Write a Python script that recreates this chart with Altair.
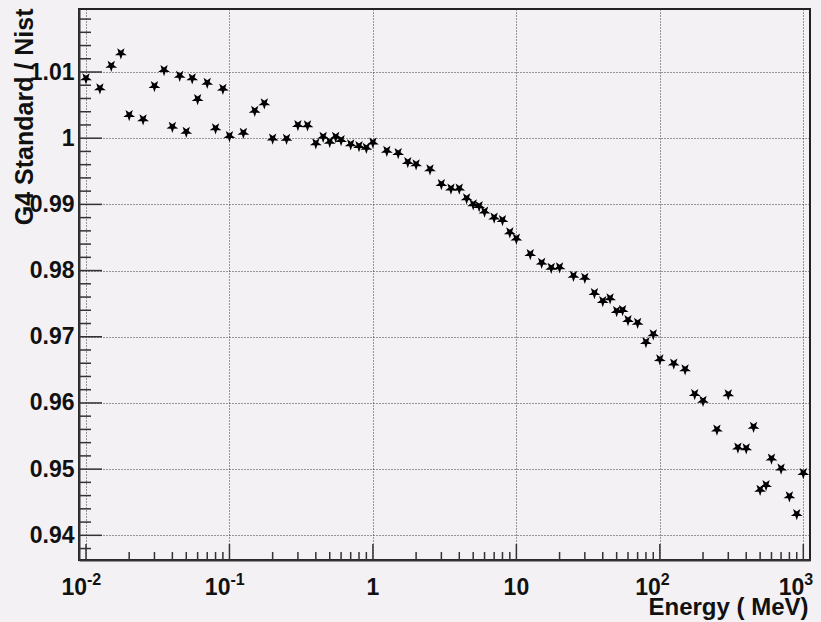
import altair as alt
import pandas as pd

# Energy grid (MeV) and ratio of G4 Standard to NIST values
ENERGY_MEV = [
    0.01, 0.0125, 0.015, 0.0175, 0.02, 0.025, 0.03, 0.035, 0.04, 0.045, 0.05, 0.055, 0.06, 0.07, 0.08, 0.09,
    0.1, 0.125, 0.15, 0.175, 0.2, 0.25, 0.3, 0.35, 0.4, 0.45, 0.5, 0.55, 0.6, 0.7, 0.8, 0.9,
    1, 1.25, 1.5, 1.75, 2, 2.5, 3, 3.5, 4, 4.5, 5, 5.5, 6, 7, 8, 9,
    10, 12.5, 15, 17.5, 20, 25, 30, 35, 40, 45, 50, 55, 60, 70, 80, 90,
    100, 125, 150, 175, 200, 250, 300, 350, 400, 450, 500, 550, 600, 700, 800, 900, 1000,
]
RATIO = [
    1.00905, 1.00754, 1.01095, 1.01283, 1.0035, 1.00285, 1.00788, 1.0103,
    1.00174, 1.00944, 1.00098, 1.00905, 1.00592, 1.00838, 1.00149, 1.00748,
    1.00033, 1.00083, 1.00415, 1.00527, 0.99995, 0.9999, 1.00199, 1.00195,
    0.99923, 1.00023, 0.99947, 1.00023, 0.99973, 0.99908, 0.99882, 0.99856,
    0.99935, 0.99811, 0.99776, 0.9964, 0.99606, 0.9953, 0.99308, 0.9924,
    0.9924, 0.99092, 0.99001, 0.98976, 0.98892, 0.98802, 0.98764, 0.98578,
    0.98485, 0.9825, 0.98119, 0.98043, 0.98049, 0.97921, 0.97892, 0.97661,
    0.9754, 0.97581, 0.97389, 0.97404, 0.97253, 0.97212, 0.96921, 0.97037,
    0.96661, 0.96596, 0.96508, 0.96135, 0.96033, 0.95599, 0.96132, 0.95327,
    0.95315, 0.95641, 0.94689, 0.9476, 0.95161, 0.9501, 0.9459, 0.94322, 0.94942,
]

# Axis ticks and labels
X_MAJOR = [0.01, 0.1, 1, 10, 100, 1000]
X_MINOR = [m * 10.0 ** k for k in range(-2, 3) for m in range(2, 10)]
X_PLAIN_VALUES = [1, 10]
X_PLAIN_TEXT = ["1", "10"]
X_POWER_VALUES = [0.01, 0.1, 100, 1000]
X_POWER_EXPONENTS = ["-2", "-1", "2", "3"]
Y_MAJOR = [0.94, 0.95, 0.96, 0.97, 0.98, 0.99, 1.00, 1.01]
Y_MINOR = [round(0.938 + 0.002 * i, 3) for i in range(41) if i % 5 != 1]

X_DOMAIN = [0.008938, 1113.4]
Y_DOMAIN = [0.93627, 1.01952]

W, H = 731, 551
FONT = "Liberation Sans"
BG = "#f4f1f4"
INK = "#111111"
LINE = "#333333"

# downward-pointing five-point star
STAR = ("M0,1 L-0.235,0.324 L-0.951,0.309 L-0.380,-0.124 L-0.588,-0.809 "
        "L0,-0.4 L0.588,-0.809 L0.380,-0.124 L0.951,0.309 L0.235,0.324 Z")

xs = alt.Scale(type="log", domain=X_DOMAIN, nice=False)
ys = alt.Scale(domain=Y_DOMAIN, nice=False, zero=False)

x_axis = alt.Axis(
    values=X_MAJOR, grid=True, gridDash=[1, 2], gridColor="#3a3a3a", gridWidth=1,
    ticks=False, tickSize=0, labels=False, domain=True, domainColor=LINE, domainWidth=2,
    title="Energy ( MeV)", titleFont=FONT, titleFontSize=24, titleFontWeight="bold",
    titleColor=INK, titleAnchor="end", titleAlign="right", titleBaseline="alphabetic",
    titleX=729, titleY=54,
)
y_axis = alt.Axis(
    values=Y_MAJOR, grid=True, gridDash=[1, 2], gridColor="#3a3a3a", gridWidth=1,
    ticks=False, tickSize=0, domain=True, domainColor=LINE, domainWidth=2,
    labelExpr="abs(datum.value - 1) < 1e-6 ? '1' : format(datum.value, '.2f')",
    labelFont=FONT, labelFontSize=23, labelFontWeight="bold", labelColor=INK,
    labelPadding=5, labelAlign="right", labelBaseline="middle",
    title="G4 Standard / Nist", titleFont=FONT, titleFontSize=25, titleFontWeight="bold",
    titleColor=INK, titleAngle=270, titleAlign="right", titleBaseline="middle",
    titleX=-55, titleY=-1,
)

points = pd.DataFrame({"E": ENERGY_MEV, "ratio": RATIO})

stars = alt.Chart(points).mark_point(
    shape=STAR, filled=True, color="black", opacity=1, size=155, strokeWidth=0
).encode(
    x=alt.X("E:Q", scale=xs, axis=x_axis),
    y=alt.Y("ratio:Q", scale=ys, axis=y_axis),
)

def x_ticks(values, length):
    return alt.Chart(pd.DataFrame({"E": values})).mark_rule(
        color=LINE, strokeWidth=1.5
    ).encode(
        x=alt.X("E:Q", scale=xs, axis=x_axis),
        y=alt.value(H - length), y2=alt.value(H),
    )

def y_ticks(values, length):
    return alt.Chart(pd.DataFrame({"ratio": values})).mark_rule(
        color=LINE, strokeWidth=1.5
    ).encode(
        y=alt.Y("ratio:Q", scale=ys, axis=y_axis),
        x=alt.value(0), x2=alt.value(length),
    )

plain_labels = alt.Chart(pd.DataFrame({"E": X_PLAIN_VALUES, "t": X_PLAIN_TEXT})).mark_text(
    font=FONT, fontSize=23, fontWeight="bold", color=INK, align="center", baseline="alphabetic"
).encode(x=alt.X("E:Q", scale=xs, axis=x_axis), y=alt.value(586), text="t:N")

power_bases = alt.Chart(pd.DataFrame({"E": X_POWER_VALUES, "t": ["10"] * len(X_POWER_VALUES)})).mark_text(
    font=FONT, fontSize=23, fontWeight="bold", color=INK, align="right", baseline="alphabetic", dx=1
).encode(x=alt.X("E:Q", scale=xs, axis=x_axis), y=alt.value(586), text="t:N")

power_exps = alt.Chart(pd.DataFrame({"E": X_POWER_VALUES, "t": X_POWER_EXPONENTS})).mark_text(
    font=FONT, fontSize=16, fontWeight="bold", color=INK, align="left", baseline="alphabetic", dx=1
).encode(x=alt.X("E:Q", scale=xs, axis=x_axis), y=alt.value(576), text="t:N")

chart = alt.layer(
    x_ticks(X_MAJOR, 16),
    x_ticks(X_MINOR, 8),
    y_ticks(Y_MAJOR, 23),
    y_ticks(Y_MINOR, 12),
    stars,
    plain_labels,
    power_bases,
    power_exps,
).properties(
    width=W, height=H,
    autosize=alt.AutoSizeParams(type="none"),
    padding={"left": 79, "top": 9, "right": 11, "bottom": 62},
    background=BG,
).configure_view(
    stroke="#222222", strokeWidth=2, fill=BG
)

chart.save("out.html", embed_options={"renderer": "svg", "actions": False})
